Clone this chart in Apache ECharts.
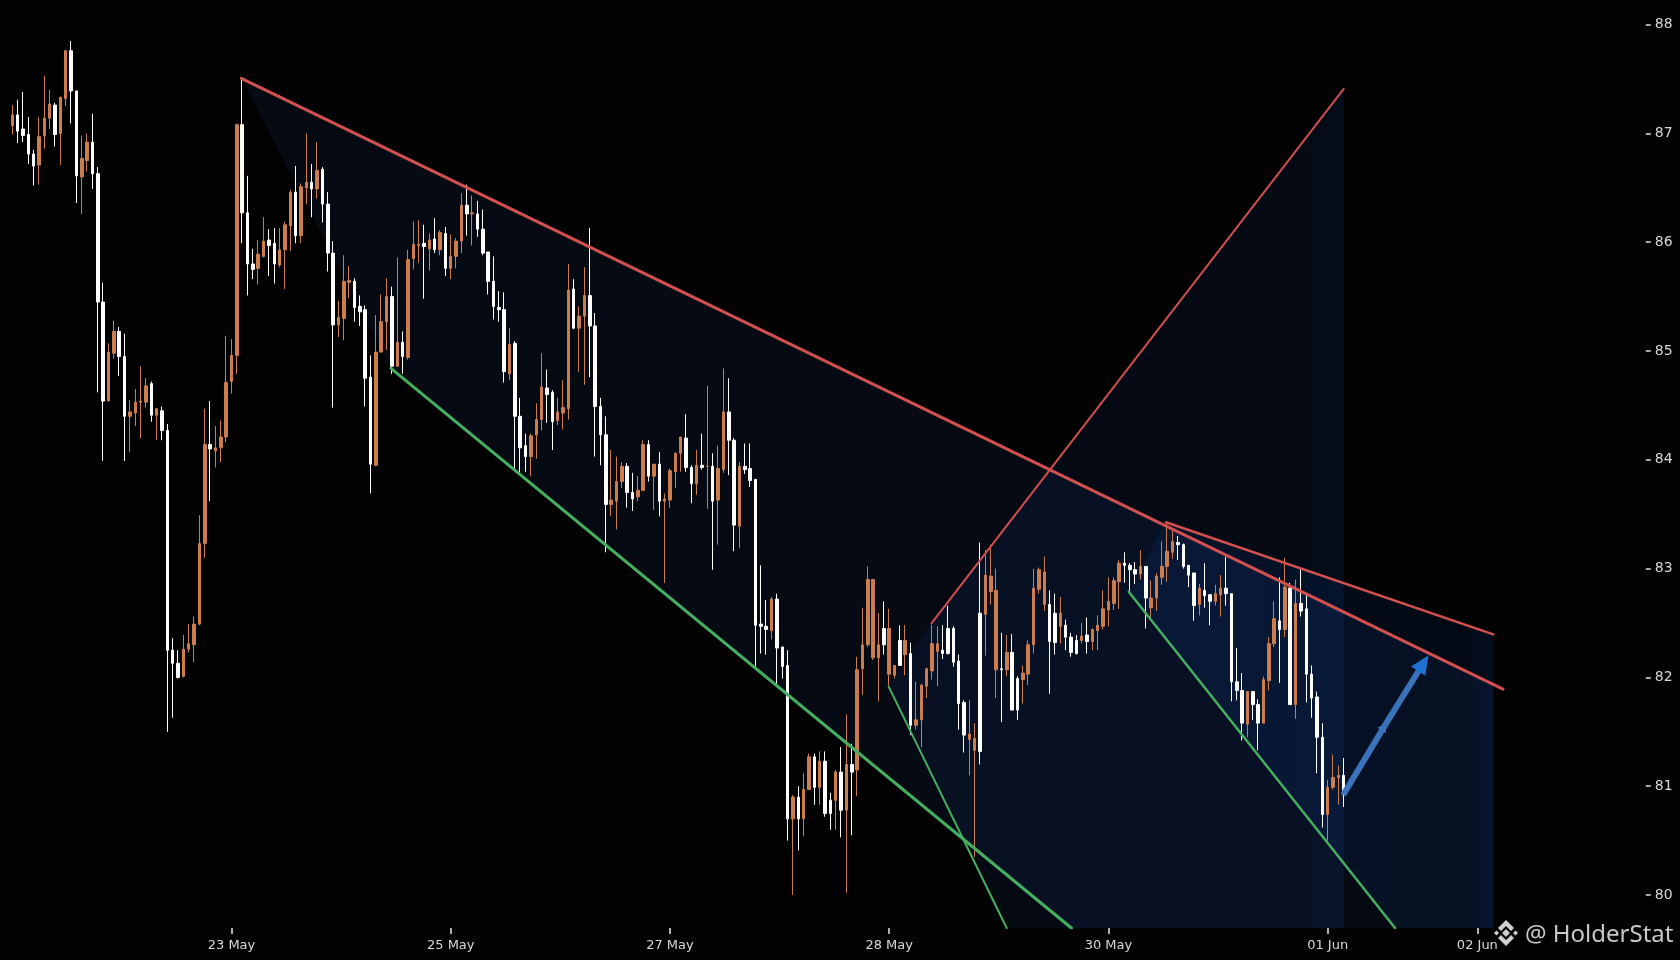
<!DOCTYPE html>
<html>
<head>
<meta charset="utf-8">
<style>html,body{margin:0;padding:0;background:#020202}#c{width:1680px;height:960px}</style>
<script src="https://cdn.jsdelivr.net/npm/echarts@6/dist/echarts.min.js"></script>
</head>
<body>
<div id="c"></div>
<script>
const dirs = [
 "o","w","w","w","w","o","o","o","w","o", "o","w","w","o","o","w","w","w","o","o",
 "w","w","o","o","o","o","w","o","w","w", "w","w","o","o","o","o","o","w","o","o",
 "o","o","o","w","w","w","o","o","w","w", "o","o","o","w","o","o","w","o","w","w",
 "w","o","o","o","w","w","w","w","o","o", "o","w","o","w","o","o","o","w","o","w",
 "o","w","o","o","o","w","o","w","w","w", "w","w","w","o","w","w","w","o","o","o",
 "w","w","o","o","o","w","o","o","w","w", "w","w","o","o","o","w","w","o","o","w",
 "o","w","o","o","o","o","w","w","o","w", "o","w","o","o","w","w","o","w","w","w",
 "w","w","o","w","w","w","o","w","o","o", "w","o","w","w","o","w","o","w","o","o",
 "o","o","o","w","o","o","w","o","w","o", "o","o","o","o","w","w","w","w","w","o",
 "o","w","o","o","o","w","o","w","w","o", "o","o","o","o","w","w","o","w","w","w",
 "o","w","o","o","o","o","o","o","w","w", "w","o","w","o","o","o","o","o","w","w",
 "w","w","o","w","w","o","o","w","w","w", "w","o","w","w","o","o","o","w","o","w",
 "o","w","w","w","w","w","o","o","o","w"
];
const bodyTop = [
 87.17,87.17,87.04,86.99,86.81,86.97,87.14,87.27,87.26,87.33, 87.76,87.76,87.39,86.77,86.92,86.92,86.63,85.45,84.99,85.18,
 85.18,84.95,84.44,84.53,84.54,84.68,84.70,84.47,84.45,84.27, 82.25,82.13,82.26,82.31,82.49,83.23,84.14,84.14,84.11,84.21,
 84.71,84.96,87.08,87.08,86.27,85.80,85.89,86.01,86.02,85.99, 85.93,86.16,86.46,86.46,86.51,86.55,86.55,86.66,86.67,86.35,
 85.90,85.31,85.64,85.65,85.64,85.41,85.38,84.76,84.99,85.27, 85.50,85.50,85.08,85.08,85.84,85.98,85.98,85.99,86.02,86.03,
 86.09,86.08,85.87,86.01,86.34,86.34,86.27,86.26,86.12,85.91, 85.64,85.40,85.38,85.06,85.07,84.40,84.13,84.22,84.37,84.67,
 84.66,84.62,84.44,84.48,85.56,85.57,85.32,85.51,85.51,85.23, 84.49,84.23,83.63,83.80,83.94,83.94,83.70,83.72,84.14,84.14,
 83.96,83.96,83.64,83.90,84.06,84.21,84.20,83.93,83.95,83.95, 83.94,83.94,83.92,84.44,84.44,84.18,83.94,83.94,83.92,83.82,
 82.49,82.47,82.72,82.72,82.28,82.11,80.90,80.90,80.97,81.27, 81.27,81.23,81.23,80.87,81.13,81.13,81.20,81.20,82.07,82.30,
 82.90,82.90,82.30,82.45,82.45,82.11,82.34,82.34,82.22,81.61, 81.93,82.08,82.31,82.31,82.25,82.45,82.45,82.15,81.77,81.48,
 81.44,82.59,82.94,82.93,82.80,82.08,82.23,82.23,81.99,82.04, 82.30,82.82,82.99,82.97,82.67,82.59,82.59,82.48,82.37,82.34,
 82.38,82.39,82.44,82.48,82.63,82.70,82.89,83.05,83.05,83.03, 82.99,83.02,83.02,82.73,82.93,83.02,83.16,83.25,83.24,83.22,
 83.03,82.96,82.82,82.80,82.76,82.77,82.82,82.82,82.77,81.96, 81.88,81.87,81.87,81.75,81.98,82.31,82.54,82.52,82.83,82.82,
 82.68,82.68,82.63,82.03,81.82,81.45,80.99,81.08,81.10,81.10
];
const bodyBottom = [
 87.07,87.02,86.98,86.81,86.70,86.71,86.98,87.14,86.99,87.00, 87.32,87.39,86.61,86.60,86.75,86.63,85.45,84.54,84.54,84.98,
 84.95,84.40,84.40,84.43,84.53,84.53,84.41,84.41,84.27,82.25, 82.13,82.00,82.01,82.26,82.30,82.49,83.23,84.10,84.08,84.11,
 84.21,84.72,84.96,86.27,85.80,85.75,85.76,85.87,85.97,85.80, 85.79,85.93,86.15,86.06,86.06,86.50,86.49,86.49,86.35,85.90,
 85.24,85.24,85.30,85.63,85.40,85.36,84.75,83.96,83.95,84.99, 85.27,84.86,84.86,84.95,84.94,85.85,85.97,85.96,85.94,85.93,
 85.93,85.76,85.76,85.87,86.01,86.26,86.26,86.12,85.90,85.64, 85.41,85.38,84.81,84.79,84.40,84.11,84.03,84.03,84.23,84.37,
 84.60,84.35,84.36,84.43,84.47,85.21,85.21,85.32,85.23,84.49, 84.23,83.59,83.59,83.62,83.80,83.70,83.64,83.66,83.72,83.85,
 83.85,83.62,83.62,83.63,83.89,84.06,83.93,83.78,83.78,83.93, 83.94,83.62,83.63,83.91,84.18,83.40,83.39,83.91,83.81,82.48,
 82.47,82.44,82.43,82.27,82.10,80.70,80.70,80.70,80.70,80.97, 80.99,80.99,80.75,80.75,80.87,80.78,80.78,81.13,81.15,82.08,
 82.30,82.18,82.18,82.30,82.03,82.02,82.11,82.21,81.56,81.56, 81.61,81.92,82.06,82.24,82.22,82.22,82.14,81.76,81.47,81.43,
 81.33,81.32,82.58,82.79,82.07,82.07,82.07,81.70,81.70,81.98, 82.03,82.30,82.81,82.67,82.33,82.32,82.47,82.37,82.23,82.22,
 82.34,82.33,82.33,82.43,82.47,82.62,82.68,82.88,83.03,82.99, 82.95,82.95,82.73,82.64,82.73,82.92,83.02,83.15,83.22,83.02,
 82.94,82.66,82.67,82.75,82.70,82.70,82.76,82.77,81.96,81.88, 81.58,81.57,81.75,81.58,81.58,81.97,82.31,82.44,82.44,81.75,
 81.75,82.61,82.03,81.81,81.45,80.74,80.74,80.99,81.08,80.92
];
const highs = [
 87.26,87.31,87.38,87.15,86.85,87.15,87.53,87.40,87.28,87.34, 87.76,87.85,87.39,86.98,87.00,87.18,86.69,85.63,85.07,85.28,
 85.22,85.16,84.55,84.65,84.86,84.75,84.72,84.47,84.49,84.33, 82.36,82.25,82.39,82.49,82.56,83.49,84.47,84.54,84.31,84.36,
 85.14,85.11,87.09,87.50,86.61,85.94,86.02,86.23,86.12,86.13, 86.13,86.19,86.48,86.70,86.54,87.00,86.72,86.92,86.69,86.46,
 86.01,85.46,85.88,85.78,85.67,85.51,85.42,84.96,85.33,85.52, 85.67,85.59,85.86,85.18,85.93,86.19,86.20,86.16,86.08,86.22,
 86.11,86.14,86.07,86.04,86.45,86.53,86.43,86.38,86.30,85.91, 85.87,85.55,85.54,85.21,85.09,84.57,84.24,84.24,84.52,84.98,
 84.83,84.64,84.57,84.73,85.80,85.66,85.41,85.77,86.13,85.35, 84.57,84.40,84.09,84.03,83.98,83.97,83.88,83.85,84.18,84.18,
 83.96,84.07,83.69,83.92,84.07,84.21,84.42,83.95,84.09,84.24, 84.68,84.06,84.13,84.84,84.75,84.20,83.98,84.15,84.15,83.82,
 83.03,82.71,82.74,82.77,82.28,82.25,80.92,81.00,81.12,81.30, 81.30,81.32,81.32,80.94,81.15,81.36,81.66,81.39,82.19,82.64,
 83.02,82.90,82.59,82.70,82.63,82.11,82.48,82.48,82.32,81.96, 81.94,82.09,82.48,82.47,82.48,82.66,82.47,82.21,81.79,81.79,
 81.58,83.24,83.17,83.22,83.00,82.41,82.39,82.40,82.01,82.11, 82.34,83.00,83.01,83.11,82.80,82.77,82.74,82.53,82.41,82.39,
 82.50,82.55,82.45,82.57,82.80,82.92,82.92,83.08,83.15,83.05, 83.06,83.17,83.02,82.89,82.96,83.25,83.42,83.35,83.30,83.23,
 83.03,82.96,82.86,83.05,82.76,82.85,82.94,83.11,82.77,82.27, 82.04,81.87,81.87,81.80,82.01,82.37,82.70,82.92,83.10,82.87,
 82.90,83.00,82.77,82.11,81.87,81.58,81.06,81.29,81.19,81.26
];
const lows = [
 86.99,86.91,86.92,86.72,86.52,86.53,86.86,87.04,86.88,86.71, 87.25,87.09,86.36,86.26,86.65,86.49,84.62,83.99,84.54,84.93,
 84.77,83.99,84.07,84.31,84.20,84.48,84.35,84.18,84.18,81.50, 81.63,81.99,82.00,82.23,82.14,82.48,83.10,83.62,83.93,83.98,
 84.16,84.61,84.79,85.99,85.51,85.66,85.61,85.86,85.69,85.62, 85.77,85.57,85.92,85.99,85.99,86.35,86.23,86.40,86.18,85.73,
 84.48,85.13,85.10,85.49,85.27,85.23,84.49,83.69,83.94,84.99, 85.01,84.79,84.86,84.79,84.92,85.75,85.81,85.48,85.74,85.90,
 85.88,85.69,85.66,85.76,85.90,86.06,85.97,86.05,85.88,85.52, 85.29,85.27,84.71,84.73,83.91,83.88,83.89,83.85,84.01,84.27,
 84.34,84.09,84.32,84.28,84.37,85.20,84.81,84.69,84.76,84.03, 83.95,83.15,83.48,83.36,83.74,83.56,83.53,83.62,83.71,83.80,
 83.54,83.48,82.87,83.56,83.74,83.89,83.89,83.60,83.68,83.91, 83.55,82.99,83.22,83.88,83.86,83.16,83.19,83.87,83.75,82.10,
 82.22,82.21,82.35,81.93,81.99,80.50,80.00,80.41,80.54,80.97, 80.83,80.83,80.72,80.60,80.60,80.53,80.02,80.55,80.91,81.84,
 82.28,82.16,81.78,82.21,81.91,81.99,82.11,82.02,81.47,81.52, 81.36,81.81,81.98,81.92,82.17,82.21,82.10,81.52,81.31,81.10,
 80.35,81.20,82.20,82.67,81.81,81.59,82.01,81.70,81.61,81.76, 81.93,82.22,82.77,82.61,81.85,82.21,82.31,82.25,82.19,82.21,
 82.31,82.22,82.25,82.25,82.44,82.47,82.62,82.63,82.87,82.79, 82.86,82.90,82.45,82.53,82.61,82.85,82.88,83.09,83.08,83.00,
 82.83,82.52,82.57,82.64,82.48,82.66,82.56,82.66,81.78,81.79, 81.42,81.45,81.61,81.33,81.58,81.88,82.28,81.95,82.37,81.75,
 81.62,82.56,81.77,81.63,81.12,80.62,80.50,80.97,80.83,80.81
];
const tickIndex = [41, 82, 123, 164, 205, 246, 274];
const tickLabels = ["23 May", "25 May", "27 May", "28 May", "30 May", "01 Jun", "02 Jun"];
const priceTicks = [80, 81, 82, 83, 84, 85, 86, 87, 88];
const slotCount = 306;
const axisMin = 79.697, axisMax = 88.226;

const upperMainX = [42.83, 278.8],  upperMainY = [87.506, 81.893];
const lowerMainX = [70.82, 198.07], lowerMainY = [84.841, 79.697];
const upperSteepX = [171.9, 249.0], upperSteepY = [82.497, 87.409];
const lowerSteepX = [163.9, 185.97],lowerSteepY = [81.915, 79.697];
const upperLastX = [215.76, 276.98],upperLastY = [83.426, 82.396];
const lowerLastX = [208.8, 258.6],  lowerLastY = [82.788, 79.697];
const arrowX = [248.9, 256.6, 263.9], arrowY = [80.92, 81.55, 82.13];

const zoneAX = [42.83, 276.9, 276.9, 198.07, 70.82], zoneAY = [87.506, 81.937, 79.697, 79.697, 84.841];
const zoneBX = [171.9, 249.0, 249.0, 185.97, 163.9], zoneBY = [82.497, 87.409, 79.697, 79.697, 81.915];
const zoneCX = [215.76, 276.98, 276.98, 258.6, 208.8], zoneCY = [83.426, 82.396, 79.697, 79.697, 82.788];

const categories = Array.from({length: slotCount}, (_, i) => {
  const k = tickIndex.indexOf(i);
  return k >= 0 ? tickLabels[k] : String(i);
});
const candleData = bodyTop.map((t, i) => dirs[i] === 'o'
  ? [bodyBottom[i], t, lows[i], highs[i]]
  : [t, bodyBottom[i], lows[i], highs[i]]);

function zone(xs, ys, rgb, stops) {
  const pts = xs.map((x, i) => [x, ys[i]]);
  return {
    type: 'custom', xAxisIndex: 1, yAxisIndex: 0, clip: true, silent: true, z: 1,
    data: pts, encode: {x: 0, y: 1},
    renderItem: (p, api) => {
      if (p.dataIndex !== 0) return null;
      const px = pts.map(q => api.coord(q));
      const xsPx = px.map(q => q[0]);
      const fill = new echarts.graphic.LinearGradient(
        Math.min(...xsPx), 0, Math.max(...xsPx), 0,
        stops.map(s => ({offset: s[0], color: `rgba(${rgb},${s[1]})`})), true);
      return {type: 'polygon', shape: {points: px}, style: {fill}};
    }
  };
}
function trend(xs, ys, color, width) {
  return {
    type: 'line', xAxisIndex: 1, yAxisIndex: 0, silent: true, z: 5, symbol: 'none',
    data: xs.map((x, i) => [x, ys[i]]),
    lineStyle: {color, width, cap: 'round', opacity: 1}
  };
}

const chart = echarts.init(document.getElementById('c'), null, {renderer: 'canvas'});
chart.setOption({
  animation: false,
  backgroundColor: '#020202',
  grid: {left: 9.6, top: 0, width: 1636.2, height: 928},
  xAxis: [{
    type: 'category', data: categories, boundaryGap: true,
    axisLine: {show: false, onZero: false},
    axisTick: {show: true, alignWithLabel: true, length: 6, lineStyle: {color: '#e8e8e8', width: 1.5},
      interval: i => tickIndex.includes(i)},
    axisLabel: {show: true, color: '#d8d8d8', fontFamily: 'DejaVu Sans', fontSize: 13, margin: 11,
      interval: i => tickIndex.includes(i), hideOverlap: false},
    splitLine: {show: false}
  }, {
    type: 'value', show: false, min: -0.5, max: slotCount - 0.5, splitLine: {show: false},
    axisLine: {onZero: false}
  }],
  yAxis: {
    type: 'value', position: 'right', min: axisMin, max: axisMax, scale: true,
    axisLine: {show: false, onZero: false},
    axisTick: {show: true, length: 5, customValues: priceTicks, lineStyle: {color: '#e0e0e0', width: 1.5}},
    axisLabel: {show: true, color: '#d8d8d8', fontFamily: 'DejaVu Sans', fontSize: 14, margin: 9,
      padding: [3, 0, 0, 0], customValues: priceTicks, formatter: v => String(v)},
    splitLine: {show: false}
  },
  series: [
    zone(zoneAX, zoneAY, '50,90,190', [[0, 0.09], [1, 0.09]]),
    zone(zoneBX, zoneBY, '30,100,230', [[0, 0.07], [0.9, 0.08], [1, 0.11]]),
    zone(zoneCX, zoneCY, '10,100,240', [[0, 0.09], [0.92, 0.08], [1, 0.12]]),
    {
      type: 'candlestick', xAxisIndex: 0, yAxisIndex: 0, silent: true, z: 3,
      data: candleData, barWidth: 3,
      itemStyle: {color: '#cb7d4e', borderColor: '#cb7d4e', color0: '#ffffff', borderColor0: '#ffffff', borderWidth: 1}
    },
    trend(upperMainX, upperMainY, '#d2504f', 3),
    trend(lowerMainX, lowerMainY, '#46ae62', 3),
    trend(upperSteepX, upperSteepY, '#cf4f50', 2),
    trend(lowerSteepX, lowerSteepY, '#46ae62', 2),
    trend(upperLastX, upperLastY, '#d2504f', 2.5),
    trend(lowerLastX, lowerLastY, '#46ae62', 2.5),
    {
      type: 'line', xAxisIndex: 1, yAxisIndex: 0, silent: true, z: 6,
      data: [
        {value: [arrowX[0], arrowY[0]], symbol: 'none'},
        {value: [arrowX[1], arrowY[1]], symbol: 'triangle', symbolSize: [10, 10], symbolRotate: -33},
        {value: [arrowX[2], arrowY[2]], symbol: 'triangle', symbolSize: [17, 19], symbolRotate: -33, itemStyle: {color: '#2070d0'}}
      ],
      showSymbol: true, showAllSymbol: true,
      itemStyle: {color: '#3a72bc'},
      lineStyle: {color: '#3a72bc', width: 6}
    }
  ],
  graphic: [
    {type: 'polygon', z: 100, shape: {points: [[1506,920],[1514,928],[1511,931],[1506,926],[1501,931],[1498,928]]}, style: {fill: '#cfcfcf'}},
    {type: 'polygon', z: 100, shape: {points: [[1506,946],[1514,938],[1511,935],[1506,940],[1501,935],[1498,938]]}, style: {fill: '#cfcfcf'}},
    {type: 'polygon', z: 100, shape: {points: [[1506,929],[1510,933],[1506,937],[1502,933]]}, style: {fill: '#cfcfcf'}},
    {type: 'polygon', z: 100, shape: {points: [[1496.5,930.5],[1499,933],[1496.5,935.5],[1494,933]]}, style: {fill: '#cfcfcf'}},
    {type: 'polygon', z: 100, shape: {points: [[1515.5,930.5],[1518,933],[1515.5,935.5],[1513,933]]}, style: {fill: '#cfcfcf'}},
    {type: 'text', z: 100, left: 1525, top: 923, style: {text: '@ HolderStat', fill: '#c8c8c8', font: '24px "Noto Sans"'}}
  ]
});
</script>
</body>
</html>
